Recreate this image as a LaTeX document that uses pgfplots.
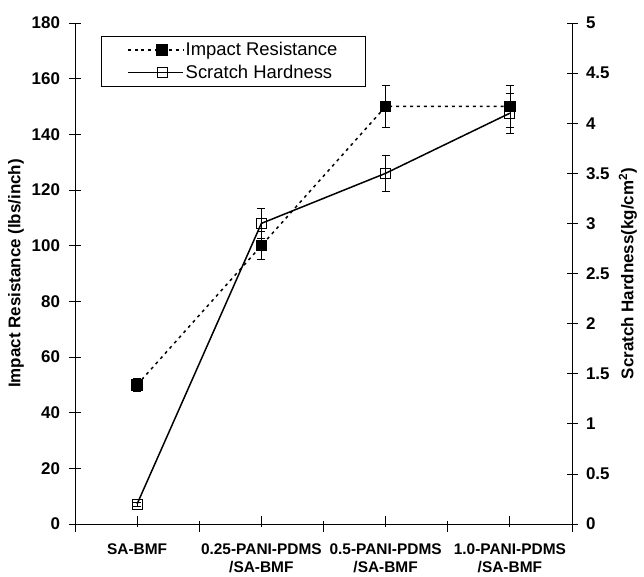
\documentclass[border=0pt]{standalone}
\usepackage{fontspec}
\setmainfont{Liberation Sans}
\usepackage{pgfplots}
\pgfplotsset{compat=1.18}

\pgfplotsset{
  base/.style={
    scale only axis, width=497bp, height=501bp,
    xmin=-0.5, xmax=3.5,
    /pgf/number format/assume math mode=true,
    tick label style={font=\fontsize{17}{19}\selectfont\bfseries},
    label style={font=\fontsize{17}{19}\selectfont\bfseries},
    axis line style={line width=1pt},
    major tick length=11bp,
    every tick/.style={black, line width=0.8pt},
    ytick align=center,
    yticklabel={\textbf{\pgfmathprintnumber{\tick}}},
  },
  ebar/.style={error bars/.cd, y dir=both, y explicit,
    error bar style={line width=0.7pt, solid},
    error mark options={rotate=90, mark size=4bp, line width=0.7pt}},
}

\begin{document}
\begin{tikzpicture}
\begin{axis}[base,
  axis y line*=left, axis x line*=bottom,
  ymin=0, ymax=180, ytick={0,20,...,180},
  xtick={0,1,2,3},
  xticklabels={SA-BMF,{0.25-PANI-PDMS\\/SA-BMF},{0.5-PANI-PDMS\\/SA-BMF},{1.0-PANI-PDMS\\/SA-BMF}},
  xticklabel style={align=center, font=\fontsize{15.5}{18.5}\selectfont\bfseries, yshift=-16bp},
  x tick style={line width=0.8pt, yshift=-2.5bp},
  extra x ticks={-0.5,0.5,1.5,2.5,3.5},
  extra x tick labels={},
  extra x tick style={xtick align=center, major tick length=11bp},
  ylabel={Impact Resistance (lbs/inch)},
  ylabel style={at={(axis description cs:-0.1187,0.5)}, anchor=center},
  yticklabel style={xshift=-6bp},
  clip=false,
]
\addplot[black, line width=1.5pt, dash pattern=on 3pt off 4pt,
  mark=square*, mark size=5bp, mark options={solid, fill=black}, ebar]
  coordinates {(0,50) +- (0,2.5) (1,100) +- (0,5) (2,150) +- (0,7.5) (3,150) +- (0,7.5)};
% page margins as in the reference
\path (rel axis cs:0,1) ++(-75bp,23bp);
\path (rel axis cs:1,0) ++(72bp,-50bp);
\end{axis}
\begin{axis}[base,
  axis y line*=right, axis x line=none,
  ymin=0, ymax=5, ytick={0,0.5,...,5},
  yticklabel style={xshift=5bp},
  ylabel={Scratch Hardness(kg/cm$^{\mathbf{2}}$)},
  ylabel style={at={(axis description cs:1.1127,0.5)}, anchor=center},
  legend style={at={(0.052,0.974)}, anchor=north west, draw=black, line width=0.8pt,
    font=\fontsize{18.5}{21}\selectfont, inner xsep=26bp, inner ysep=4bp,
    row sep=4bp, cells={anchor=west}},
  legend cell align=left,
  legend image code/.code={%
    \path (-13bp,0bp) -- (0bp,0bp);
    \draw[mark repeat=2, mark phase=2, #1] plot coordinates {(0bp,0bp) (21bp,0bp) (42bp,0bp)};},
]
\addlegendimage{black, line width=1.5pt, dash pattern=on 3pt off 4pt,
  mark=square*, mark size=5bp, mark options={solid, fill=black}}
\addlegendentry{Impact Resistance\hspace{4bp}}
\addplot[black, line width=1.5pt, mark=square, mark size=5bp,
  mark options={solid, fill=white, line width=0.8pt}, ebar]
  coordinates {(0,0.2) +- (0,0.02) (1,3.0) +- (0,0.15) (2,3.5) +- (0,0.18) (3,4.1) +- (0,0.2)};
\addlegendentry{Scratch Hardness}
\end{axis}
\end{tikzpicture}
\end{document}
